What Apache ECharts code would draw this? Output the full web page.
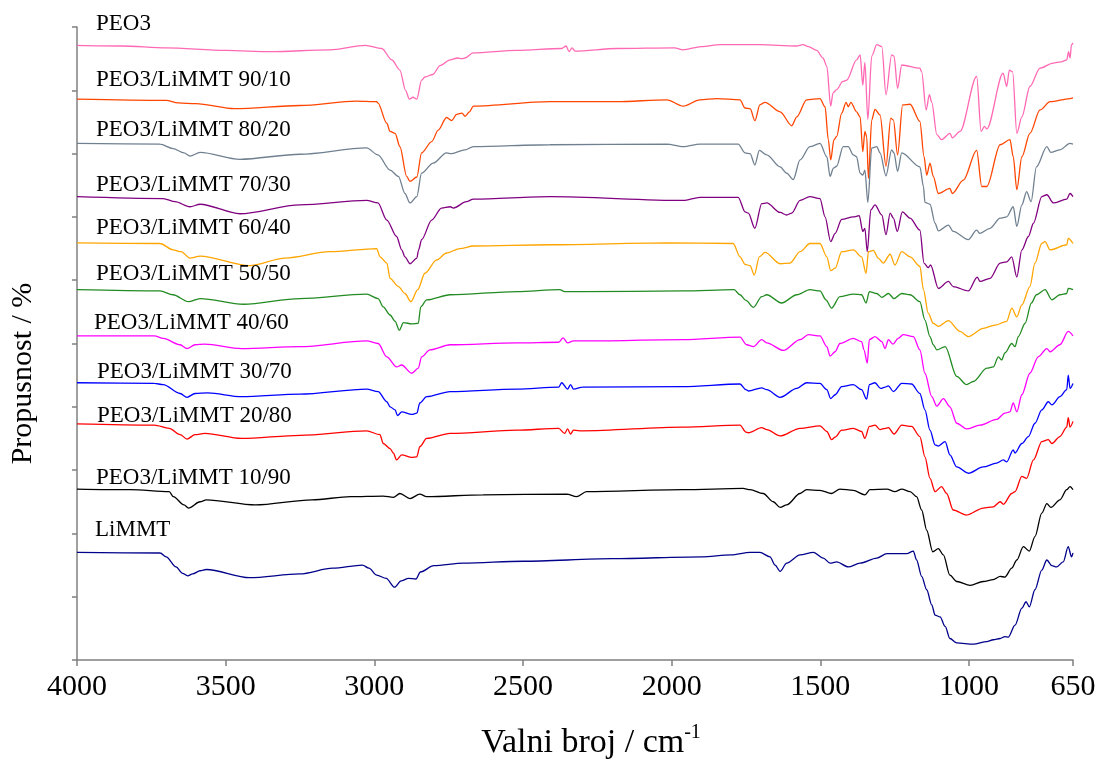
<!DOCTYPE html>
<html><head><meta charset="utf-8">
<script src="https://cdn.jsdelivr.net/npm/echarts@6/dist/echarts.min.js"></script>
<style>html,body{margin:0;padding:0;background:#fff}#c{width:1115px;height:762px}</style>
</head><body><div id="c"></div>
<script>
// x tick labels (wavenumber, cm-1)
const xTicks = [4000, 3500, 3000, 2500, 2000, 1500, 1000, 650];
const names = ['PEO3', 'PEO3/LiMMT 90/10', 'PEO3/LiMMT 80/20', 'PEO3/LiMMT 70/30', 'PEO3/LiMMT 60/40',
  'PEO3/LiMMT 50/50', 'PEO3/LiMMT 40/60', 'PEO3/LiMMT 30/70', 'PEO3/LiMMT 20/80', 'PEO3/LiMMT 10/90', 'LiMMT'];

// [wavenumber, transmittance (offset, arbitrary units)]
const peo3 = [[4000,97.1],[3850,97.0],[3700,96.7],[3500,96.3],[3350,96.1],[3150,96.4],[3030,97.1],[2975,96.6],[2941,94.8],[2914,93.2],[2895,90.0],[2882,88.6],[2870,88.9],[2857,88.6],[2841,91.6],[2830,92.1],[2803,92.5],[2779,93.9],[2745,94.8],[2720,95.1],[2705,95.0],[2695,95.1],[2668,95.9],[2521,96.3],[2370,96.6],[2355,97.0],[2345,96.1],[2335,96.7],[2325,96.2],[2184,96.6],[1990,96.7],[1962,96.4],[1900,96.9],[1837,97.2],[1703,97.2],[1580,97.0],[1558,97.2],[1540,96.9],[1512,96.3],[1491,95.1],[1478,93.8],[1465,87.5],[1457,89.6],[1445,90.1],[1424,91.4],[1411,91.6],[1378,94.8],[1366,95.6],[1357,90.8],[1350,94.4],[1340,85.4],[1327,95.4],[1310,97.2],[1293,96.9],[1279,89.3],[1260,95.6],[1252,95.4],[1240,90.3],[1226,94.0],[1165,93.5],[1159,92.9],[1144,86.9],[1133,89.3],[1125,88.1],[1108,83.0],[1092,82.2],[1064,83.2],[1056,82.5],[1030,83.5],[974,92.2],[959,83.5],[948,84.3],[940,83.9],[885,92.7],[873,90.6],[864,93.2],[853,92.9],[839,83.2],[822,85.8],[795,90.6],[761,93.5],[717,94.3],[690,94.5],[671,94.8],[665,96.1],[660,95.1],[655,97.2],[650,97.5]];
const limmt9010 = [[4000,88.6],[3700,88.4],[3660,88.0],[3600,87.9],[3470,87.1],[3250,87.6],[3060,88.3],[2992,88.2],[2988,88.0],[2958,84.8],[2947,83.5],[2930,83.2],[2914,81.1],[2891,76.4],[2880,75.6],[2857,76.3],[2841,80.1],[2807,81.9],[2785,83.7],[2757,85.7],[2740,85.2],[2723,86.2],[2705,86.4],[2695,85.9],[2680,86.6],[2667,87.5],[2409,88.2],[2185,88.2],[2016,88.5],[1961,87.5],[1905,88.5],[1848,88.7],[1770,88.5],[1753,87.2],[1736,87.1],[1720,85.2],[1703,87.7],[1686,88.1],[1635,86.6],[1596,84.4],[1579,85.8],[1546,88.5],[1501,88.7],[1484,87.4],[1473,82.2],[1465,79.0],[1454,82.2],[1445,82.7],[1428,86.4],[1413,88.1],[1406,87.4],[1397,88.1],[1378,86.6],[1366,85.8],[1357,80.3],[1350,83.5],[1344,82.7],[1338,76.1],[1327,85.3],[1316,87.0],[1299,86.1],[1279,78.0],[1263,85.6],[1254,85.3],[1240,79.8],[1223,87.7],[1198,87.8],[1165,85.1],[1151,79.5],[1142,76.6],[1131,78.5],[1120,76.4],[1103,73.7],[1064,74.5],[1056,73.7],[1019,75.8],[974,80.5],[957,74.8],[940,74.8],[895,81.4],[862,82.2],[851,79.5],[839,74.3],[822,79.5],[795,83.2],[761,86.9],[727,88.2],[660,88.7],[650,88.8]];
const limmt8020 = [[4000,81.6],[3721,81.5],[3677,80.8],[3640,80.1],[3620,79.6],[3586,80.2],[3452,79.1],[3250,79.9],[3026,80.9],[2988,79.8],[2947,77.4],[2919,76.4],[2897,73.7],[2880,72.2],[2857,73.2],[2841,76.9],[2802,78.5],[2757,80.1],[2740,80.0],[2695,80.6],[2667,81.1],[2409,81.4],[2016,81.5],[1961,81.1],[1905,81.5],[1776,81.5],[1753,80.1],[1736,80.0],[1720,78.2],[1705,80.5],[1680,79.8],[1635,77.9],[1613,76.9],[1591,75.9],[1568,79.0],[1535,81.1],[1501,81.6],[1478,79.5],[1467,76.4],[1456,77.7],[1445,78.0],[1423,81.1],[1406,81.1],[1389,79.8],[1378,79.5],[1366,76.9],[1357,76.6],[1350,77.4],[1340,72.3],[1327,80.9],[1310,81.1],[1299,80.1],[1279,76.5],[1260,80.6],[1252,80.1],[1240,77.2],[1226,80.1],[1165,77.9],[1153,74.8],[1148,72.3],[1131,72.0],[1114,69.0],[1103,67.8],[1069,68.7],[1053,67.7],[1002,66.4],[974,67.9],[963,67.4],[929,68.2],[895,69.8],[873,70.0],[851,71.6],[839,68.5],[822,71.9],[806,74.0],[791,72.4],[773,77.9],[738,81.1],[725,80.2],[694,80.6],[660,81.6],[650,81.5]];
const limmt7030 = [[4000,73.2],[3710,72.9],[3670,72.4],[3620,71.6],[3586,72.0],[3452,70.5],[3250,71.9],[3026,72.6],[2988,72.2],[2958,69.5],[2925,66.9],[2908,64.8],[2897,63.7],[2880,62.6],[2857,63.5],[2851,64.8],[2841,66.4],[2807,69.5],[2774,71.4],[2745,71.6],[2734,71.4],[2690,72.4],[2667,72.8],[2409,73.2],[1961,72.6],[1905,73.1],[1776,73.1],[1753,70.8],[1742,70.6],[1720,68.2],[1697,72.1],[1680,72.2],[1635,70.7],[1613,70.3],[1596,70.6],[1568,72.6],[1535,73.2],[1501,72.9],[1484,70.0],[1465,66.1],[1450,67.4],[1428,69.6],[1389,70.0],[1369,70.2],[1357,67.7],[1350,68.2],[1342,64.5],[1330,71.1],[1316,71.9],[1293,70.3],[1279,67.2],[1265,70.6],[1254,69.8],[1241,67.7],[1224,70.8],[1198,69.8],[1165,67.9],[1151,62.7],[1137,62.0],[1129,62.4],[1103,58.7],[1069,59.8],[1053,59.0],[1002,58.3],[972,60.5],[963,59.8],[929,60.3],[895,62.7],[873,62.9],[856,63.7],[839,60.5],[822,64.8],[800,66.9],[783,69.0],[755,73.2],[738,73.5],[716,72.2],[671,72.8],[660,73.7],[650,73.2]];
const limmt6040 = [[4000,65.9],[3721,65.8],[3677,64.8],[3650,64.5],[3620,63.5],[3586,63.8],[3420,62.3],[3300,63.5],[3150,64.5],[2992,65.0],[2981,63.7],[2958,62.7],[2947,60.3],[2919,59.0],[2897,57.9],[2877,56.6],[2854,58.5],[2830,61.1],[2790,63.2],[2757,64.3],[2712,65.0],[2667,65.4],[2409,65.6],[2016,65.9],[1793,65.8],[1770,63.7],[1753,62.5],[1736,62.3],[1722,60.8],[1705,63.7],[1686,64.4],[1635,62.6],[1602,62.7],[1568,64.5],[1535,65.8],[1501,65.8],[1478,63.7],[1465,61.5],[1450,61.9],[1428,64.5],[1389,64.8],[1361,63.7],[1346,61.1],[1338,64.5],[1322,64.7],[1305,63.5],[1288,62.7],[1265,64.1],[1249,62.4],[1226,64.5],[1198,63.7],[1165,62.2],[1153,58.5],[1137,54.8],[1120,53.2],[1103,52.7],[1069,53.6],[1030,51.9],[1002,51.1],[952,52.4],[912,52.9],[873,53.5],[856,55.6],[839,54.2],[822,56.1],[795,59.0],[778,62.7],[755,65.8],[744,66.1],[727,64.8],[671,65.6],[666,66.6],[650,65.8]];
const limmt5050 = [[4000,58.5],[3721,58.3],[3677,57.7],[3625,56.6],[3586,57.1],[3440,56.2],[3250,57.1],[3026,57.8],[2987,57.1],[2970,55.8],[2947,54.5],[2930,53.5],[2916,52.1],[2902,53.3],[2874,53.1],[2852,53.2],[2844,55.8],[2824,56.9],[2745,57.7],[2521,58.2],[2376,58.5],[2360,58.2],[2300,58.2],[1962,58.3],[1790,58.5],[1770,57.7],[1750,56.8],[1725,55.7],[1697,57.4],[1680,57.7],[1630,56.4],[1579,57.7],[1535,58.5],[1501,58.3],[1481,56.9],[1462,55.6],[1434,57.4],[1389,57.8],[1361,57.7],[1346,56.4],[1335,58.2],[1310,57.9],[1293,57.3],[1271,57.9],[1252,57.1],[1226,57.9],[1198,57.7],[1165,56.6],[1148,53.7],[1131,51.1],[1120,49.8],[1108,49.0],[1080,49.5],[1041,44.8],[1008,43.5],[985,44.0],[940,46.1],[918,46.3],[901,47.9],[890,47.4],[879,48.5],[856,50.0],[845,49.5],[834,51.1],[811,53.2],[790,56.4],[773,57.7],[744,58.5],[721,56.9],[694,57.7],[671,57.9],[666,58.7],[650,58.5]];
const limmt4060 = [[4000,51.2],[3740,51.2],[3710,50.8],[3653,49.8],[3630,49.2],[3603,49.8],[3570,49.9],[3447,49.2],[3250,49.5],[3026,50.4],[2987,50.0],[2958,47.9],[2925,46.3],[2908,46.6],[2874,45.3],[2852,46.1],[2841,47.9],[2813,49.0],[2745,49.8],[2521,50.1],[2380,50.2],[2365,50.9],[2350,50.1],[2330,50.4],[2300,50.4],[1962,50.6],[1770,51.0],[1748,49.8],[1725,49.5],[1697,50.6],[1680,50.1],[1624,48.9],[1568,50.6],[1540,51.4],[1501,51.2],[1478,49.5],[1467,48.0],[1450,48.7],[1434,50.0],[1389,50.8],[1361,50.3],[1353,49.0],[1342,46.9],[1335,50.6],[1316,51.1],[1293,50.3],[1282,49.2],[1271,50.6],[1256,49.9],[1238,50.8],[1221,51.4],[1187,51.1],[1165,49.0],[1148,45.3],[1125,41.6],[1108,40.1],[1086,41.3],[1064,40.0],[1041,37.4],[1008,36.5],[963,37.1],[907,38.0],[879,39.0],[862,39.2],[851,40.6],[839,39.2],[822,41.9],[795,45.3],[767,47.9],[738,49.2],[727,48.7],[694,49.8],[666,51.9],[650,51.2]];
const limmt3070 = [[4000,43.8],[3740,43.7],[3710,43.5],[3653,42.1],[3630,41.5],[3603,42.1],[3560,42.2],[3447,41.6],[3250,42.0],[3026,42.8],[2987,42.4],[2958,40.8],[2947,40.0],[2930,39.5],[2922,38.6],[2908,39.2],[2874,38.8],[2857,39.0],[2847,40.6],[2824,41.6],[2745,42.4],[2521,42.8],[2380,43.1],[2370,43.8],[2350,42.8],[2340,43.5],[2330,42.8],[2300,43.1],[1962,43.2],[1770,43.6],[1750,42.7],[1742,42.5],[1697,43.0],[1680,42.7],[1635,41.5],[1579,42.9],[1546,43.8],[1501,43.7],[1478,42.7],[1465,41.3],[1450,41.9],[1428,43.2],[1389,43.5],[1361,42.7],[1344,41.2],[1335,43.5],[1316,43.8],[1297,42.9],[1282,43.1],[1271,43.3],[1254,42.4],[1226,43.7],[1193,43.6],[1165,42.1],[1148,39.5],[1131,36.3],[1114,34.0],[1103,33.8],[1080,34.5],[1064,32.4],[1041,30.5],[1002,29.5],[952,30.5],[907,31.1],[884,31.6],[873,31.3],[851,33.2],[845,32.7],[822,34.2],[800,35.3],[778,37.4],[755,39.5],[733,40.8],[721,40.3],[694,41.6],[671,42.7],[666,45.0],[660,42.9],[650,43.7]];
const limmt2080 = [[4000,37.3],[3740,37.1],[3690,36.6],[3653,35.6],[3630,34.9],[3603,35.6],[3570,35.8],[3447,35.0],[3250,35.5],[3026,36.2],[2981,35.6],[2970,34.2],[2947,33.4],[2936,32.7],[2925,31.6],[2908,32.4],[2874,32.0],[2857,32.1],[2847,33.7],[2824,35.0],[2745,35.8],[2521,36.3],[2380,36.6],[2360,35.8],[2350,36.5],[2340,35.7],[2330,36.3],[2300,36.2],[1962,36.8],[1770,37.1],[1750,36.0],[1742,35.9],[1697,36.7],[1680,36.4],[1635,35.4],[1568,36.6],[1501,37.0],[1478,36.1],[1462,34.8],[1450,35.2],[1428,36.3],[1389,36.6],[1361,36.1],[1350,35.0],[1335,36.9],[1316,37.1],[1299,36.4],[1282,36.6],[1271,36.7],[1252,35.7],[1226,37.1],[1193,36.9],[1165,35.3],[1148,32.1],[1131,28.7],[1114,26.6],[1092,27.4],[1075,26.3],[1053,23.7],[1008,22.9],[952,24.0],[918,24.2],[895,25.0],[884,24.6],[856,26.3],[845,26.6],[822,29.0],[806,28.7],[783,31.6],[755,34.5],[733,34.8],[721,34.2],[694,35.3],[671,36.8],[666,38.3],[660,36.8],[650,37.7]];
const limmt1090 = [[4000,27.0],[3820,26.9],[3690,26.6],[3676,25.8],[3640,24.5],[3625,24.0],[3586,25.0],[3565,25.3],[3400,24.5],[3210,25.3],[3080,25.8],[2970,25.9],[2936,25.7],[2914,26.3],[2880,25.5],[2847,26.2],[2824,25.8],[2634,26.1],[2353,26.2],[2320,25.8],[2286,26.6],[1962,26.9],[1760,27.1],[1736,26.9],[1692,26.3],[1658,25.0],[1635,24.1],[1613,24.5],[1568,26.3],[1546,26.9],[1501,26.8],[1462,26.3],[1434,27.0],[1389,26.8],[1350,26.1],[1333,26.9],[1276,27.0],[1249,26.6],[1226,27.0],[1198,26.6],[1176,25.8],[1159,23.7],[1142,20.5],[1122,17.1],[1103,17.6],[1086,16.6],[1064,13.4],[1041,12.4],[996,11.8],[952,12.4],[918,12.7],[895,13.2],[879,13.1],[856,14.5],[839,15.8],[817,17.9],[797,17.2],[778,19.5],[755,23.2],[738,24.7],[724,24.1],[694,25.3],[671,26.9],[660,27.4],[650,26.9]];
const limmt = [[4000,17.0],[3720,16.9],[3700,16.3],[3667,14.7],[3645,13.7],[3628,13.3],[3611,13.6],[3586,14.1],[3565,14.3],[3420,13.0],[3250,13.6],[3140,14.5],[3040,15.0],[3018,14.5],[2992,13.4],[2960,12.9],[2932,11.5],[2910,12.5],[2885,12.9],[2860,12.8],[2845,13.9],[2800,14.9],[2700,15.3],[2500,15.6],[2200,16.0],[1900,16.3],[1800,16.6],[1736,17.0],[1703,17.0],[1669,16.3],[1652,15.0],[1635,14.0],[1613,15.3],[1568,16.6],[1523,17.0],[1490,16.1],[1467,15.3],[1445,15.5],[1406,14.7],[1366,15.3],[1310,16.1],[1276,16.8],[1209,16.8],[1187,17.2],[1176,15.8],[1159,13.2],[1142,11.1],[1125,8.7],[1114,7.1],[1097,6.8],[1080,5.3],[1064,3.4],[1041,2.7],[985,2.5],[940,2.9],[918,3.2],[895,3.4],[879,3.7],[868,3.6],[845,5.5],[822,8.2],[808,9.2],[797,8.4],[778,11.1],[755,14.2],[738,15.8],[721,14.9],[705,14.7],[683,15.5],[666,17.9],[655,16.3],[650,16.9]];

const seriesData = [peo3, limmt9010, limmt8020, limmt7030, limmt6040, limmt5050, limmt4060, limmt3070, limmt2080, limmt1090, limmt];
const colors = ['#FF69B4', '#FF4500', '#708090', '#800080', '#FFA500', '#228B22', '#FF00FF', '#0000FF', '#FF0000', '#000000', '#00008B'];
const labelPos = [[96,24],[96,80],[96,130],[96,185],[96,228],[96,274],[94,323],[97,372],[97,416],[96,478],[95,530]];

const FONT = '"Liberation Serif","Times New Roman",Times,serif';
const chart = echarts.init(document.getElementById('c'), null, {renderer: 'canvas'});
chart.setOption({
  animation: false,
  backgroundColor: '#ffffff',
  grid: {left: 77, right: 42, top: 27, bottom: 102, containLabel: false, outerBoundsMode: 'none'},
  xAxis: {
    type: 'value', min: 650, max: 4000, inverse: true,
    name: '{a|Valni broj / cm}{b|-1}', nameLocation: 'middle', nameGap: 63,
    nameTextStyle: {
      padding: [0, 0, 0, 32],
      rich: {
        a: {fontSize: 34, fontFamily: FONT, color: '#000', lineHeight: 40},
        b: {fontSize: 20, fontFamily: FONT, color: '#000', verticalAlign: 'top', lineHeight: 24}
      }
    },
    axisLine: {show: true, lineStyle: {color: '#808080', width: 1.5}},
    axisTick: {show: true, length: 6, customValues: xTicks, lineStyle: {color: '#808080', width: 1.5}},
    axisLabel: {customValues: xTicks, fontSize: 30, fontFamily: FONT, color: '#000', margin: 12,
      formatter: v => String(Math.round(v))},
    splitLine: {show: false}
  },
  yAxis: {
    type: 'value', min: 0, max: 100, interval: 10,
    name: 'Propusnost / %', nameLocation: 'middle', nameGap: 39,
    nameTextStyle: {fontSize: 30, fontFamily: FONT, color: '#000', padding: [0, 60, 0, 0]},
    axisLine: {show: true, lineStyle: {color: '#808080', width: 1.5}},
    axisTick: {show: true, length: 5, lineStyle: {color: '#808080', width: 1.5}},
    axisLabel: {show: false},
    splitLine: {show: false}
  },
  series: seriesData.map((d, i) => ({
    name: names[i], type: 'line', data: d, symbol: 'none', showSymbol: false,
    smooth: 0.3, smoothMonotone: 'x',
    lineStyle: {color: colors[i], width: 1.3}, itemStyle: {color: colors[i]},
    z: 2 + i
  })),
  graphic: names.map((n, i) => ({
    type: 'text', x: labelPos[i][0], y: labelPos[i][1], z: 100,
    style: {text: n, fontSize: 23, fontFamily: FONT, fill: '#000', verticalAlign: 'middle', align: 'left'}
  }))
});
</script>
</body></html>
